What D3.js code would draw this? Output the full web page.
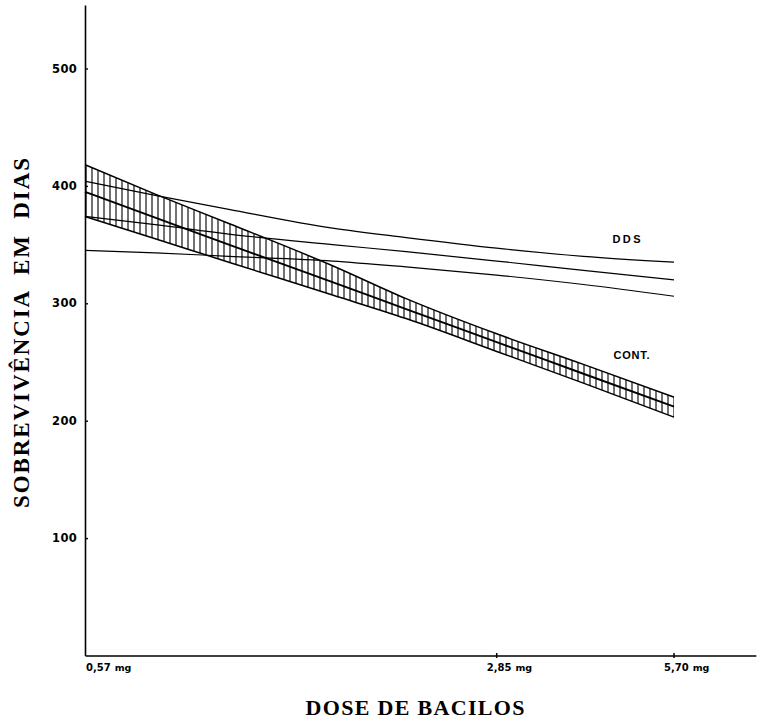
<!DOCTYPE html>
<html lang="pt">
<head>
<meta charset="utf-8">
<title>Sobrevivência em dias</title>
<script src="https://cdn.jsdelivr.net/npm/d3@7"></script>
<style>
  body { margin: 0; background: #fff; }
  svg { display: block; }
</style>
</head>
<body>
<script>
var doses = [0.57, 0.75, 1.0, 1.5, 2.0, 2.85, 4.0, 5.70];

// CONT. band (hatched)
var contUpper = [418, 393, 368, 332, 304, 274, 248, 220];
var contMean  = [395, 373, 350, 318, 295, 267, 240, 212];
var contLower = [374, 355, 335, 307, 287, 259, 232, 203];

// DDS lines
var ddsUpper = [404, 392, 380, 364, 356, 347, 340, 335];
var ddsMean  = [374, 367, 359, 350, 344, 336, 328, 320];
var ddsLower = [345, 343, 340, 336, 331, 324, 316, 306];

var yTicks = [100, 200, 300, 400, 500];
var xTicks = [0.57, 2.85, 5.70];
var xTickLabels = ["0,57", "2,85", "5,70"];

var w = 765, h = 719;
var svg = d3.select("body").append("svg").attr("width", w).attr("height", h);
svg.append("rect").attr("width", w).attr("height", h).attr("fill", "#fff");

var x = d3.scaleLog().domain([0.57, 5.70]).range([85, 674]);
var y = d3.scaleLinear().domain([0, 554]).range([655.5, 5.1]);
var xAxisEnd = 7.85;

// vertical hatch pattern for the CONT band
var defs = svg.append("defs");
var pat = defs.append("pattern")
    .attr("id", "hatch")
    .attr("patternUnits", "userSpaceOnUse")
    .attr("width", 6).attr("height", 10)
    .attr("x", 85);
pat.append("line")
    .attr("x1", 1).attr("x2", 1).attr("y1", 0).attr("y2", 10)
    .attr("stroke", "#111").attr("stroke-width", 1.2);

var rows = doses.map(function(d, i) {
    return {dose: d, cu: contUpper[i], cm: contMean[i], cl: contLower[i],
            du: ddsUpper[i], dm: ddsMean[i], dl: ddsLower[i]};
});

var area = d3.area()
    .x(function(d) { return x(d.dose); })
    .y0(function(d) { return y(d.cl); })
    .y1(function(d) { return y(d.cu); })
    .curve(d3.curveMonotoneX);

svg.append("path").datum(rows)
    .attr("d", area)
    .attr("fill", "url(#hatch)");

function lineFor(key) {
    return d3.line()
        .x(function(d) { return x(d.dose); })
        .y(function(d) { return y(d[key]); })
        .curve(d3.curveMonotoneX);
}

var curves = [
    {key: "cu", width: 1.5},
    {key: "cm", width: 1.9},
    {key: "cl", width: 1.5},
    {key: "du", width: 1.2},
    {key: "dm", width: 1.2},
    {key: "dl", width: 1.2}
];
svg.selectAll("path.curve").data(curves).enter().append("path")
    .attr("class", "curve")
    .attr("d", function(c) { return lineFor(c.key)(rows); })
    .attr("fill", "none")
    .attr("stroke", "#000")
    .attr("stroke-width", function(c) { return c.width; });

// y axis
var yAxis = d3.axisLeft(y)
    .tickValues(yTicks)
    .tickSizeInner(-3)
    .tickSizeOuter(0)
    .tickPadding(8)
    .tickFormat(d3.format("d"));
var gy = svg.append("g").attr("transform", "translate(" + x(0.57) + ",0)").call(yAxis);
gy.select(".domain").attr("stroke", "#000").attr("stroke-width", 1.6);
gy.selectAll(".tick line").attr("stroke", "#000").attr("stroke-width", 1.4);
gy.selectAll(".tick text")
    .attr("font-family", "DejaVu Sans, sans-serif")
    .attr("font-weight", "bold")
    .attr("font-size", 11.5)
    .attr("letter-spacing", 0.3)
    .attr("fill", "#000");

// x axis line
var xAxisScale = x.copy().domain([0.57, xAxisEnd]).range([x(0.57), x(xAxisEnd)]);
var gx = svg.append("g").attr("transform", "translate(0," + y(0) + ")")
    .call(d3.axisBottom(xAxisScale).tickValues([]).tickSizeOuter(0));
gx.select(".domain").attr("stroke", "#000").attr("stroke-width", 1.6);

// small crossing ticks
svg.selectAll("line.xtick").data(xTicks.slice(1)).enter().append("line")
    .attr("class", "xtick")
    .attr("x1", function(d) { return x(d); }).attr("x2", function(d) { return x(d); })
    .attr("y1", y(0) - 2.5).attr("y2", y(0) + 2.5)
    .attr("stroke", "#000").attr("stroke-width", 1.5);

var xl = svg.selectAll("text.xlab").data(xTicks).enter().append("text")
    .attr("class", "xlab")
    .attr("x", function(d, i) { return x(d) + (i === 0 ? 1 : -10); })
    .attr("y", y(0) + 15)
    .attr("font-family", "DejaVu Sans, sans-serif")
    .attr("font-size", 10)
    .attr("fill", "#000");
xl.append("tspan").attr("font-weight", "bold").text(function(d, i) { return xTickLabels[i]; });
xl.append("tspan").attr("dx", 4).attr("font-weight", "bold").attr("font-size", 9.5).text("mg");

// series labels
svg.append("text")
    .attr("x", x(4.0) + 29).attr("y", y(ddsUpper[6]) - 13)
    .attr("font-family", "Liberation Sans, Arial, sans-serif")
    .attr("font-weight", "bold").attr("font-size", 11)
    .attr("letter-spacing", 2.5)
    .text("DDS");
svg.append("text")
    .attr("x", x(4.0) + 30).attr("y", y(contUpper[6]) - 5)
    .attr("font-family", "Liberation Sans, Arial, sans-serif")
    .attr("font-weight", "bold").attr("font-size", 11)
    .attr("letter-spacing", 0.8)
    .text("CONT.");

// axis titles
svg.append("text")
    .attr("x", 415).attr("y", 715)
    .attr("text-anchor", "middle")
    .attr("font-family", "Liberation Serif, Times New Roman, serif")
    .attr("font-weight", "bold").attr("font-size", 22)
    .attr("textLength", 219).attr("lengthAdjust", "spacing")
    .text("DOSE DE BACILOS");

svg.append("text")
    .attr("transform", "translate(29,333) rotate(-90)")
    .attr("text-anchor", "middle")
    .attr("font-family", "Liberation Serif, Times New Roman, serif")
    .attr("font-weight", "bold").attr("font-size", 23)
    .attr("textLength", 350).attr("lengthAdjust", "spacing")
    .style("white-space", "pre")
    .text("SOBREVIVÊNCIA  EM  DIAS");
</script>
</body>
</html>
